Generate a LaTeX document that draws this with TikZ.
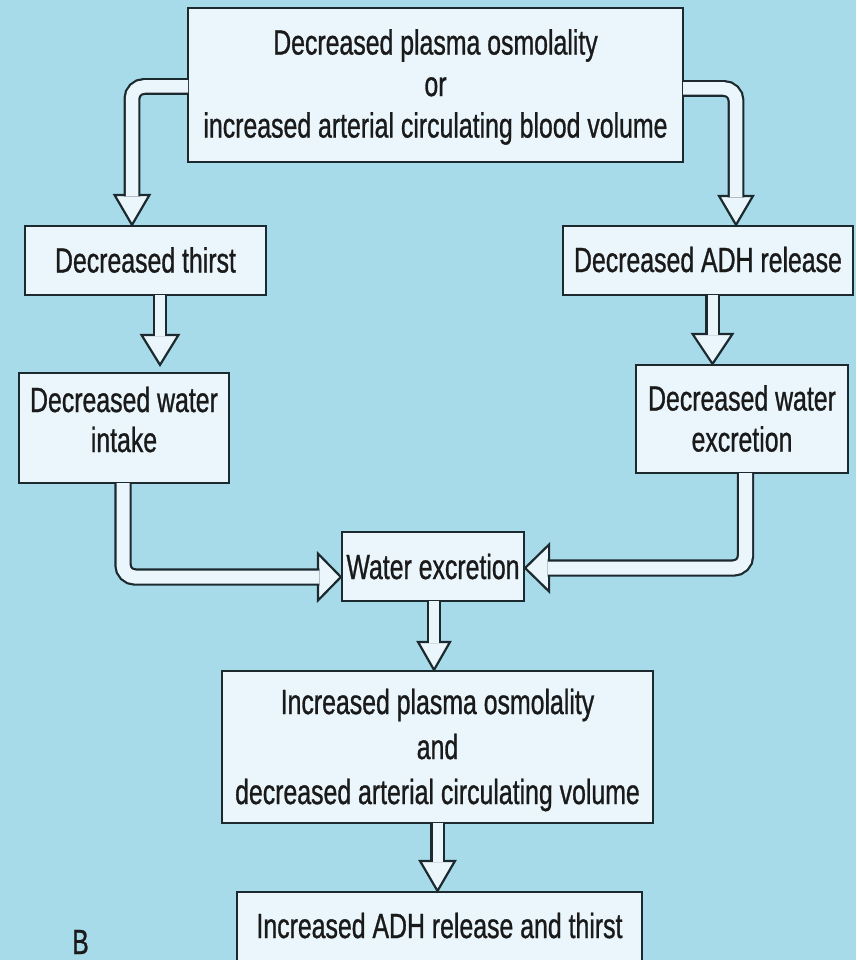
\documentclass[tikz,border=0pt]{standalone}
\usepackage{fontspec}
\setmainfont{Liberation Sans}[FakeStretch=0.71, FakeBold=0.8]
\usetikzlibrary{calc}
\definecolor{bg}{HTML}{A7DBEA}
\definecolor{boxfill}{HTML}{EAF6FB}
\definecolor{edge}{HTML}{1C2A30}
\definecolor{ink}{HTML}{1A1A1A}

% arrow heads: tip coordinate, length, half width
\newcommand\headdown[3]{\draw[head] (#1) -- ++(-#3,-#2) -- ++(2*#3,0) -- cycle;}
\newcommand\headright[3]{\draw[head] (#1) -- ++(-#2,-#3) -- ++(0,2*#3) -- cycle;}
\newcommand\headleft[3]{\draw[head] (#1) -- ++(#2,-#3) -- ++(0,2*#3) -- cycle;}

\begin{document}
\begin{tikzpicture}[x=1pt,y=-1pt,
  box/.style={draw=edge, fill=boxfill, line width=2.2pt, inner sep=0pt, rectangle},
  txt/.style={text=ink, align=center, inner sep=0pt, font=\fontsize{35}{41.5}\selectfont},
  shaft/.style={draw=edge, double=boxfill, double distance=#1, line width=2.2pt, rounded corners=12pt},
  shaft/.default=10pt,
  head/.style={draw=edge, fill=boxfill, line width=2.2pt, line join=miter}]
\clip (0,0) rectangle (856,960);
\fill[bg] (0,0) rectangle (856,960);

% boxes
\node[box, minimum width=495pt, minimum height=154pt] (top) at (435.5,85) {};
\node[box, minimum width=241pt, minimum height=69pt] (thirst) at (145.5,260.5) {};
\node[box, minimum width=290pt, minimum height=69pt] (adh) at (708,260.5) {};
\node[box, minimum width=210pt, minimum height=110pt] (intake) at (124,428) {};
\node[box, minimum width=212pt, minimum height=108pt] (excr) at (742,419) {};
\node[box, minimum width=182pt, minimum height=69pt] (water) at (433,566.5) {};
\node[box, minimum width=431pt, minimum height=152pt] (plasma) at (437.5,747) {};
\node[box, minimum width=405pt, minimum height=78pt] (final) at (439.5,931) {};

% texts
\node[txt] (top-t) at (435.5,87) {Decreased plasma osmolality\\or\\increased arterial circulating blood volume};
\node[txt] (thirst-t) at (145.5,260) {Decreased thirst};
\node[txt] (adh-t) at (708,259.5) {Decreased ADH release};
\node[txt, font=\fontsize{35}{40}\selectfont] (intake-t) at (124,419.5) {Decreased water\\intake};
\node[txt, font=\fontsize{35}{41}\selectfont] (excr-t) at (742,418.5) {Decreased water\\excretion};
\node[txt] (water-t) at (433,566.5) {Water excretion};
\node[txt, font=\fontsize{35}{45}\selectfont] (plasma-t) at (437.5,750) {Increased plasma osmolality\\and\\decreased arterial circulating volume};
\node[txt] (final-t) at (439.5,925.5) {Increased ADH release and thirst};
\node[txt, font=\fontsize{35}{40}\selectfont] (lbl) at (80.5,942) {B};

% columns and rows of the connectors
\coordinate (cA) at (132,0);
\coordinate (cB) at (736,0);
\coordinate (cC) at (160,0);
\coordinate (cD) at (712.5,0);
\coordinate (cE) at (123,0);
\coordinate (cF) at (745.5,0);
\coordinate (cG) at (434,0);
\coordinate (cH) at (437.5,0);
\coordinate (r1) at (0,86.5);
\coordinate (r2) at (0,88.5);
\coordinate (r5) at (0,577);
\coordinate (r6) at (0,568);

% arrow tips
\coordinate (t1) at (thirst.north -| cA);
\coordinate (t2) at (adh.north -| cB);
\coordinate (t3) at ($(intake.north -| cC)+(0,-7)$);
\coordinate (t4) at (excr.north -| cD);
\coordinate (t5) at (water.west |- r5);
\coordinate (t6) at (water.east |- r6);
\coordinate (t7) at (plasma.north -| cG);
\coordinate (t8) at (final.north -| cH);

% heads
\headdown{t1}{30}{17.5}
\headdown{t2}{29}{17}
\headdown{t3}{30}{18.5}
\headdown{t4}{30}{20}
\headright{t5}{23}{23.5}
\headleft{t6}{24}{23.5}
\headdown{t7}{28}{16}
\headdown{t8}{30}{17.5}

% hollow shafts
\draw[shaft=12.5pt] ($(top.west |- r1)+(1.1,0)$) -- (cA |- r1) -- ($(t1)+(0,-28.5)$);
\draw[shaft=12.5pt] ($(top.east |- r2)+(-1.1,0)$) -- (cB |- r2) -- ($(t2)+(0,-27.5)$);
\draw[shaft] ($(thirst.south -| cC)+(0,-1.1)$) -- ($(t3)+(0,-28.5)$);
\draw[shaft] ($(adh.south -| cD)+(0,-1.1)$) -- ($(t4)+(0,-28.5)$);
\draw[shaft=13pt] ($(intake.south -| cE)+(0,-1.1)$) -- (cE |- r5) -- ($(t5)+(-21.5,0)$);
\draw[shaft=13pt] ($(excr.south -| cF)+(0,-1.1)$) -- (cF |- r6) -- ($(t6)+(22.5,0)$);
\draw[shaft] ($(water.south -| cG)+(0,-1.1)$) -- ($(t7)+(0,-26.5)$);
\draw[shaft] ($(plasma.south -| cH)+(0,-1.1)$) -- ($(t8)+(0,-28.5)$);
\end{tikzpicture}
\end{document}
